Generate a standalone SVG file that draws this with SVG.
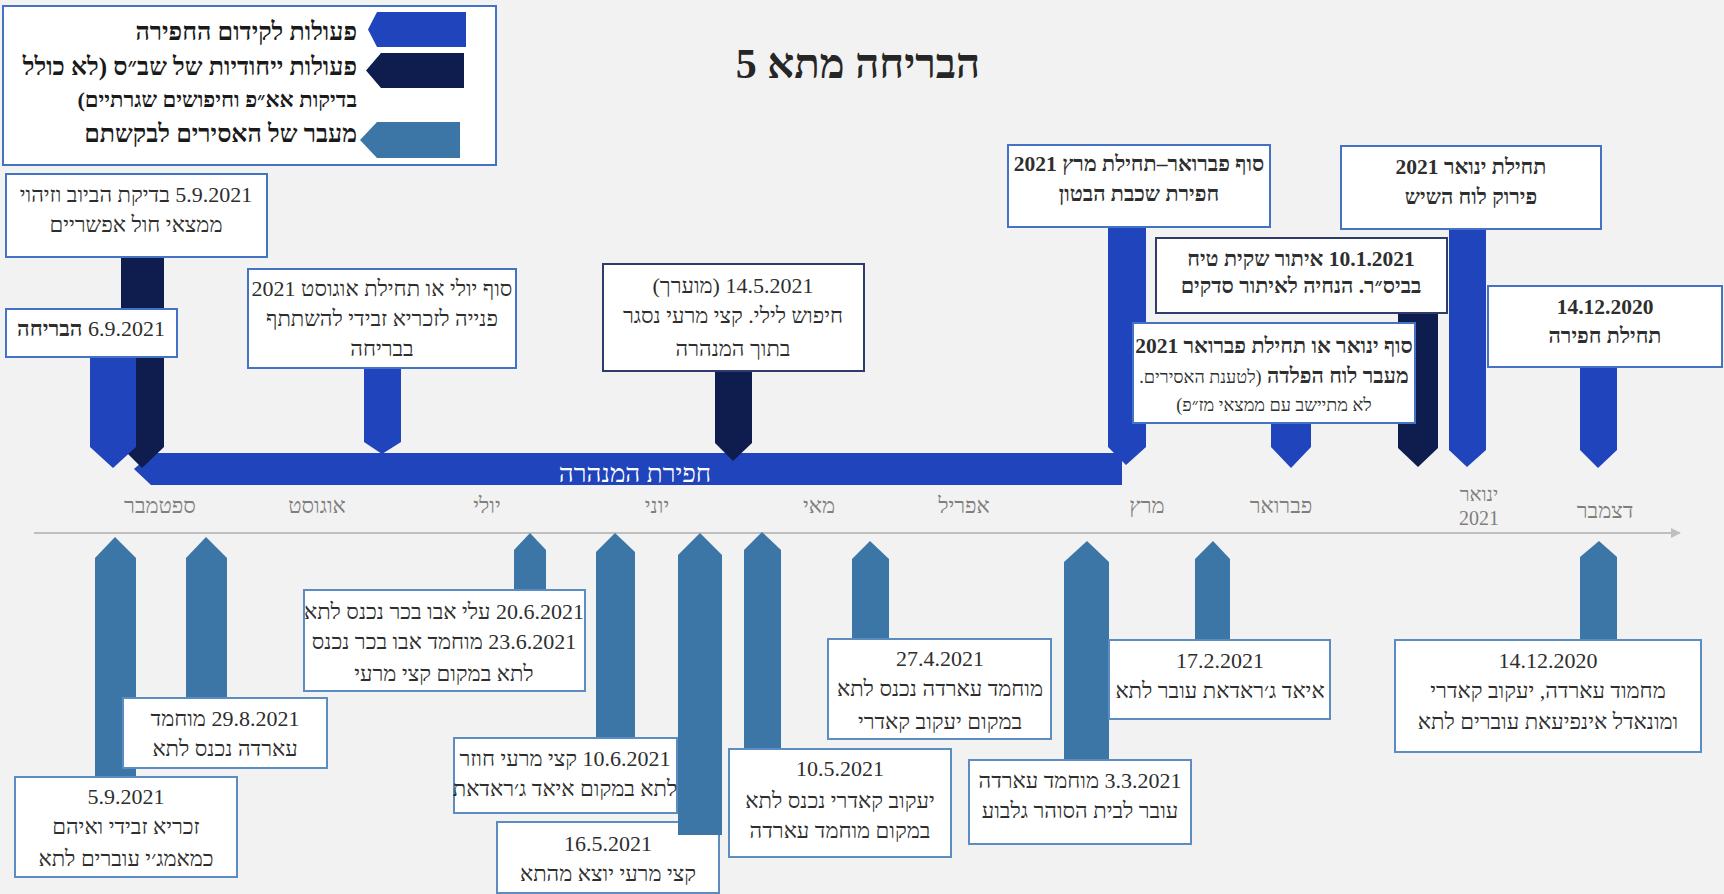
<svg xmlns="http://www.w3.org/2000/svg" width="1724" height="894" viewBox="0 0 1724 894">
<defs>
<style>
.t{font-family:"Liberation Serif","DejaVu Serif",serif;direction:rtl;text-anchor:middle;fill:#2e2e2e;font-size:22px}
.b{font-weight:bold;font-size:21.5px}
.lg{font-family:"Liberation Serif","DejaVu Serif",serif;direction:rtl;text-anchor:start;fill:#1a1a1a;font-weight:bold;font-size:25px}
.m{font-family:"Liberation Serif","DejaVu Serif",serif;direction:rtl;text-anchor:middle;fill:#7f7f7f;font-size:22px}
.box{fill:#fff;stroke:#4472C4;stroke-width:2}
.boxn{fill:#fff;stroke:#2F3B6B;stroke-width:2}
.boxs{fill:#fff;stroke:#5B8DC2;stroke-width:2}
.blue{fill:#1F44BB}
.navy{fill:#0E1C4E}
.steel{fill:#3B76A6}
</style>
<marker id="ah" viewBox="0 0 10 10" refX="9" refY="5" markerWidth="10" markerHeight="10" markerUnits="userSpaceOnUse" orient="auto">
<path d="M0,0 L10,5 L0,10 z" fill="#BFBFBF"/>
</marker>
</defs>
<rect width="1724" height="894" fill="#F2F2F2"/>

<g id="title">
<text class="t" x="858" y="78" style="font-size:42px;font-weight:bold;fill:#262626">הבריחה מתא 5</text>
</g>

<g id="legend">
<rect x="3" y="6" width="493" height="159" class="box"/>
<polygon class="blue" points="377,12 466,12 466,47 377,47 368,29.5"/>
<polygon class="navy" points="381,53 464,53 464,88 381,88 366,70.5"/>
<polygon class="steel" points="377,122 460,122 460,158 377,158 360,140"/>
<text class="lg" x="357" y="40">פעולות לקידום החפירה</text>
<text class="lg" x="357" y="75">פעולות ייחודיות של שב״ס (לא כולל</text>
<text class="lg" x="357" y="107" style="font-size:22px">בדיקות אא״פ וחיפושים שגרתיים)</text>
<text class="lg" x="357" y="142">מעבר של האסירים לבקשתם</text>
</g>

<g id="axis">
<line x1="34" y1="533" x2="1680" y2="533" stroke="#BFBFBF" stroke-width="2" marker-end="url(#ah)"/>
<text class="m" x="160" y="513">ספטמבר</text>
<text class="m" x="317" y="513">אוגוסט</text>
<text class="m" x="487" y="513">יולי</text>
<text class="m" x="657" y="513">יוני</text>
<text class="m" x="819" y="513">מאי</text>
<text class="m" x="964" y="513">אפריל</text>
<text class="m" x="1147" y="513">מרץ</text>
<text class="m" x="1281" y="513">פברואר</text>
<text class="m" x="1479" y="501" style="font-size:20px">ינואר</text>
<text class="m" x="1479" y="525" style="font-size:20px">2021</text>
<text class="m" x="1605" y="518">דצמבר</text>
</g>

<g id="connectors">
<polygon id="tunnel" class="blue" points="152,453 1122,453 1122,485 151,485 134,469"/>
<text class="t" x="635" y="482" style="fill:#fff;font-size:26px">חפירת המנהרה</text>
<polygon class="navy" points="121,257 164,257 164,447 142,468 121,447"/>
<polygon class="blue" points="90,357 136,357 136,447 113,468 90,447"/>
<polygon class="blue" points="364,368 401,368 401,442 382,454 364,442"/>
<polygon class="navy" points="715,371 752,371 752,443 733,461 715,443"/>
<polygon class="blue" points="1108,227 1146,227 1146,447 1126,465 1108,447"/>
<polygon class="blue" points="1271,423 1311,423 1311,447 1291,468 1271,447"/>
<polygon class="navy" points="1398,313 1438,313 1438,448 1418,467 1398,448"/>
<polygon class="blue" points="1449,229 1486,229 1486,450 1467,467 1449,450"/>
<polygon class="blue" points="1580,367 1617,367 1617,450 1598,468 1580,450"/>
<polygon class="steel" points="95,777 95,558 115,537 136,558 136,777"/>
<polygon class="steel" points="186,698 186,558 206,537 227,558 227,698"/>
<polygon class="steel" points="514,590 514,550 530,533 546,550 546,590"/>
<polygon class="steel" points="596,738 596,552 615,533 635,552 635,738"/>
<polygon class="steel" points="744,749 744,550 762,532 781,550 781,749"/>
<polygon class="steel" points="852,639 852,559 870,541 889,559 889,639"/>
<polygon class="steel" points="1064,760 1064,562 1087,541 1109,562 1109,760"/>
<polygon class="steel" points="1195,640 1195,559 1213,541 1230,559 1230,640"/>
<polygon class="steel" points="1580,640 1580,557 1599,541 1617,557 1617,640"/>
</g>

<g id="n-sewer">
<rect x="6" y="174" width="261" height="83" class="box"/>
<text class="t" x="136" y="202">5.9.2021 בדיקת הביוב וזיהוי</text>
<text class="t" x="136" y="232">ממצאי חול אפשריים</text>
</g>
<g id="n-escape">
<rect x="6" y="309" width="171" height="48" class="box"/>
<text class="t" x="91" y="336">6.9.2021 <tspan style="font-weight:bold">הבריחה</tspan></text>
</g>
<g id="n-zubeidi">
<rect x="248" y="269" width="268" height="99" class="box"/>
<text class="t" x="382" y="296">סוף יולי או תחילת אוגוסט 2021</text>
<text class="t" x="382" y="326">פנייה לזכריא זבידי להשתתף</text>
<text class="t" x="382" y="356">בבריחה</text>
</g>
<g id="n-search">
<rect x="603" y="264" width="261" height="107" class="boxn"/>
<text class="t" x="733" y="293">14.5.2021 (מוערך)</text>
<text class="t" x="733" y="323">חיפוש לילי. קצי מרעי נסגר</text>
<text class="t" x="733" y="356">בתוך המנהרה</text>
</g>
<g id="n-concrete">
<rect x="1008" y="145" width="262" height="82" class="box"/>
<text class="t b" x="1139" y="171">סוף פברואר–תחילת מרץ 2021</text>
<text class="t b" x="1139" y="201">חפירת שכבת הבטון</text>
</g>
<g id="n-marble">
<rect x="1341" y="146" width="260" height="83" class="box"/>
<text class="t b" x="1471" y="174">תחילת ינואר 2021</text>
<text class="t b" x="1471" y="204">פירוק לוח השיש</text>
</g>
<g id="n-plaster">
<rect x="1156" y="238" width="291" height="75" class="boxn"/>
<text class="t b" x="1301" y="266">10.1.2021 איתור שקית טיח</text>
<text class="t b" x="1301" y="293">בביס״ר. הנחיה לאיתור סדקים</text>
</g>
<g id="n-steel">
<rect x="1133" y="323" width="282" height="100" class="box"/>
<text class="t b" x="1274" y="353">סוף ינואר או תחילת פברואר 2021</text>
<text class="t b" x="1274" y="383">מעבר לוח הפלדה <tspan style="font-weight:normal;font-size:18px">(לטענת האסירים.</tspan></text>
<text class="t" x="1274" y="411" style="font-size:18px">לא מתיישב עם ממצאי מז״פ)</text>
</g>
<g id="n-start">
<rect x="1488" y="286" width="234" height="81" class="box"/>
<text class="t b" x="1605" y="314">14.12.2020</text>
<text class="t b" x="1605" y="343">תחילת חפירה</text>
</g>

<g id="n-b-0509">
<rect x="15" y="777" width="222" height="100" class="boxs"/>
<text class="t" x="126" y="804">5.9.2021</text>
<text class="t" x="126" y="834">זכריא זבידי ואיהם</text>
<text class="t" x="126" y="866">כמאמג׳י עוברים לתא</text>
</g>
<g id="n-b-2908">
<rect x="123" y="698" width="204" height="70" class="boxs"/>
<text class="t" x="225" y="726">29.8.2021 מוחמד</text>
<text class="t" x="225" y="756">עארדה נכנס לתא</text>
</g>
<g id="n-b-2006">
<rect x="304" y="590" width="281" height="101" class="boxs"/>
<text class="t" x="444" y="619">20.6.2021 עלי אבו בכר נכנס לתא</text>
<text class="t" x="444" y="649">23.6.2021 מוחמד אבו בכר נכנס</text>
<text class="t" x="444" y="681">לתא במקום קצי מרעי</text>
</g>
<g id="n-b-1006">
<rect x="454" y="738" width="223" height="75" class="boxs"/>
<text class="t" x="565" y="766">10.6.2021 קצי מרעי חוזר</text>
<text class="t" x="565" y="796">לתא במקום איאד ג׳ראדאת</text>
</g>
<g id="n-b-1605">
<rect x="497" y="822" width="222" height="71" class="boxs"/>
<text class="t" x="608" y="851">16.5.2021</text>
<text class="t" x="608" y="881">קצי מרעי יוצא מהתא</text>
<polygon class="steel" points="678,835 678,555 700,533 722,555 722,835"/>
</g>
<g id="n-b-1005">
<rect x="729" y="749" width="222" height="108" class="boxs"/>
<text class="t" x="840" y="776">10.5.2021</text>
<text class="t" x="840" y="808">יעקוב קאדרי נכנס לתא</text>
<text class="t" x="840" y="838">במקום מוחמד עארדה</text>
</g>
<g id="n-b-2704">
<rect x="828" y="639" width="223" height="100" class="boxs"/>
<text class="t" x="940" y="666">27.4.2021</text>
<text class="t" x="940" y="696">מוחמד עארדה נכנס לתא</text>
<text class="t" x="940" y="729">במקום יעקוב קאדרי</text>
</g>
<g id="n-b-0303">
<rect x="969" y="760" width="222" height="84" class="boxs"/>
<text class="t" x="1080" y="788">3.3.2021 מוחמד עארדה</text>
<text class="t" x="1080" y="818">עובר לבית הסוהר גלבוע</text>
</g>
<g id="n-b-1702">
<rect x="1109" y="640" width="221" height="79" class="boxs"/>
<text class="t" x="1220" y="668">17.2.2021</text>
<text class="t" x="1220" y="698">איאד ג׳ראדאת עובר לתא</text>
</g>
<g id="n-b-1412">
<rect x="1395" y="640" width="306" height="112" class="boxs"/>
<text class="t" x="1548" y="668">14.12.2020</text>
<text class="t" x="1548" y="698">מחמוד עארדה, יעקוב קאדרי</text>
<text class="t" x="1548" y="729">ומונאדל אינפיעאת עוברים לתא</text>
</g>
</svg>
